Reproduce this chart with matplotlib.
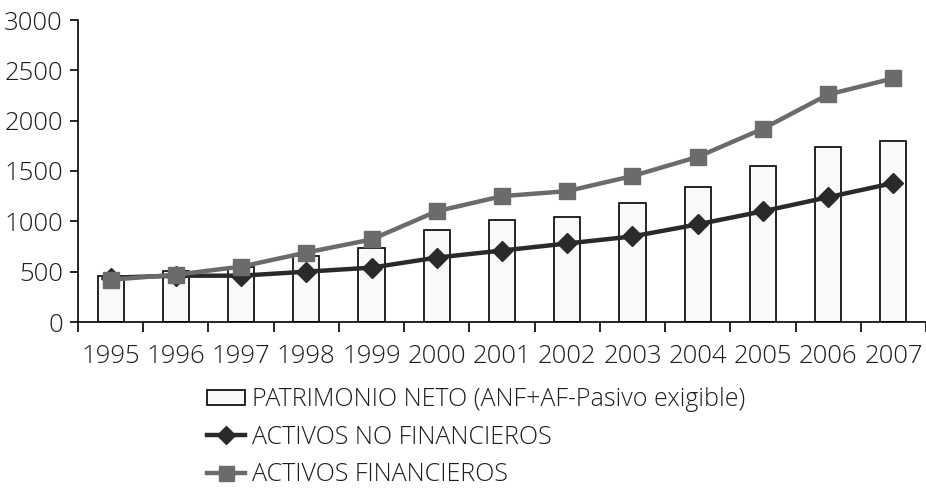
import numpy as np
import matplotlib
matplotlib.use("Agg")
import matplotlib.pyplot as plt

plt.rcParams["font.family"] = ["Open Sans", "DejaVu Sans"]
plt.rcParams["font.weight"] = "light"
plt.rcParams["text.color"] = "#1e1e1e"
plt.rcParams["xtick.labelcolor"] = "#1e1e1e"
plt.rcParams["ytick.labelcolor"] = "#1e1e1e"

years = ["1995", "1996", "1997", "1998", "1999", "2000", "2001",
         "2002", "2003", "2004", "2005", "2006", "2007"]
patrimonio = [460, 510, 550, 660, 740, 910, 1010, 1040, 1180, 1340, 1550, 1740, 1800]
activos_nf = [440, 460, 460, 500, 540, 640, 710, 780, 850, 970, 1100, 1240, 1380]
activos_f = [420, 470, 550, 690, 820, 1100, 1250, 1300, 1450, 1640, 1920, 2260, 2420]

fig = plt.figure(figsize=(9.26, 4.88), dpi=100)
ax = fig.add_axes([78 / 926, 1 - 322 / 488, 848 / 926, 302 / 488])

x = np.arange(len(years))
b = ax.bar(x, patrimonio, width=0.4, color="#f9f9f9", edgecolor="black", linewidth=1.2,
           label="PATRIMONIO NETO (ANF+AF-Pasivo exigible)", zorder=2)
l1, = ax.plot(x, activos_nf, color="#2a2a2a", linewidth=3.2, marker="D", markersize=10,
              label="ACTIVOS NO FINANCIEROS", zorder=3)
l2, = ax.plot(x, activos_f, color="#6b6b6b", linewidth=3.2, marker="s", markersize=12,
              label="ACTIVOS FINANCIEROS", zorder=4)

ax.set_xlim(-0.5, len(years) - 0.5)
ax.set_ylim(0, 3000)
ax.set_yticks(range(0, 3001, 500))
ax.set_xticks(x)
ax.set_xticklabels(years)
ax.set_xticks(np.arange(-0.5, len(years)), minor=True)
ax.tick_params(axis="x", which="major", length=0, pad=16, labelsize=18.5)
ax.tick_params(axis="x", which="minor", length=7, width=1.2)
ax.tick_params(axis="y", length=6, width=1.2, labelsize=18.5, pad=5)
for s in ["top", "right"]:
    ax.spines[s].set_visible(False)
for s in ["left", "bottom"]:
    ax.spines[s].set_linewidth(1.2)

fig.legend([b, l1, l2], [b.get_label(), l1.get_label(), l2.get_label()],
           loc="upper left", bbox_to_anchor=(207 / 926, 1 - 387 / 488), frameon=False,
           fontsize=18, handlelength=1.5, handleheight=0.55, handletextpad=0.28,
           labelspacing=0.5, borderpad=0, borderaxespad=0, markerscale=0.9)

fig.savefig("out.png", dpi=100)
